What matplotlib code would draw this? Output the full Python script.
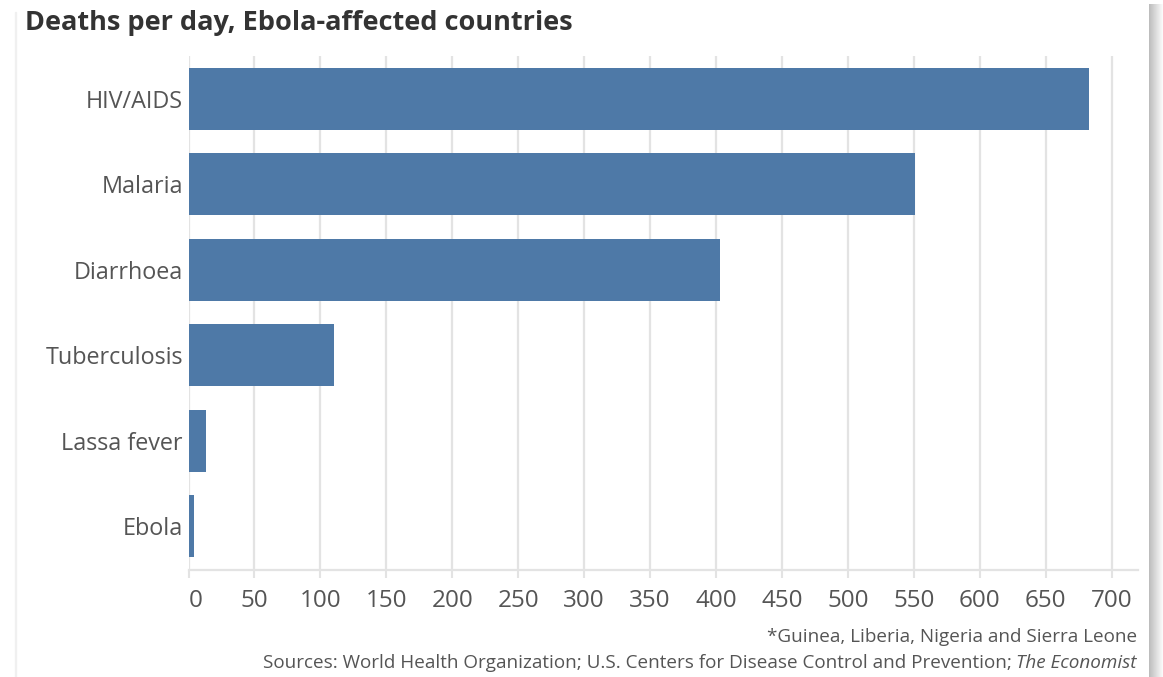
import matplotlib.pyplot as plt
from matplotlib.patches import Rectangle

# data
causes = ["HIV/AIDS", "Malaria", "Diarrhoea", "Tuberculosis", "Lassa fever", "Ebola"]
deaths = [683, 551, 403, 110, 13, 4]
ticks = list(range(0, 701, 50))

title = "Deaths per day, Ebola-affected countries"
note = "*Guinea, Liberia, Nigeria and Sierra Leone"
sources = "Sources: World Health Organization; U.S. Centers for Disease Control and Prevention; "
sources_it = "The Economist"

W, H = 1163, 677
plt.rcParams['font.family'] = ['Open Sans', 'DejaVu Sans']

fig = plt.figure(figsize=(W / 100, H / 100), dpi=100)
fig.patch.set_facecolor("white")

ax = fig.add_axes([188.5 / W, 1 - 570 / H, (1137.5 - 188.5) / W, (570 - 56) / H])
ypos = list(range(len(causes)))
ax.barh(ypos, deaths, height=0.726, color="#4e79a7", zorder=3)

ax.set_xlim(0, 719.5)
ax.set_ylim(5.515, -0.503)
ax.set_yticks(ypos)
ax.set_yticklabels(causes, fontsize=16.8, color="#555555")
ax.set_xticks(ticks)
ax.set_xticklabels([str(t) for t in ticks], fontsize=17.5, color="#555555")
ax.tick_params(axis="y", length=0, pad=4)
ax.tick_params(axis="x", length=6, width=1.5, color="#e3e3e3", pad=8)
ax.xaxis.grid(True, color="#e3e3e3", linewidth=1.6, zorder=0)
for s in ["top", "right", "left"]:
    ax.spines[s].set_visible(False)
ax.spines["bottom"].set_color("#e3e3e3")
ax.spines["bottom"].set_linewidth(1.6)

# first tick label sits right of its tick
lab0 = ax.get_xticklabels()[0]
lab0.set_horizontalalignment("left")
lab0.set_x(6)

fig.text(25 / W, 1 - 23 / H, title, fontsize=19.5, fontweight="bold",
         color="#333333", ha="left", va="center")

fig.text(1137 / W, 1 - 637 / H, note, fontsize=13.6, color="#555555",
         ha="right", va="center")
t_it = fig.text(1137 / W, 1 - 663 / H, sources_it, fontsize=13.6, color="#555555",
                ha="right", va="center", style="italic")
ax.annotate(sources, xy=(0, 0.5), xycoords=t_it, fontsize=13.6, color="#555555",
            ha="right", va="center")

# light card border and right-hand shadow of the screenshot
fig.patches.append(Rectangle((15 / W, 0), 1 / W, 1 - 12 / H, transform=fig.transFigure,
                             color="#f0f0f0", zorder=0))
for i in range(14):
    a = 0.55 * (1 - i / 14)
    fig.patches.append(Rectangle(((1149 + i) / W, 0), 1 / W, 1 - 4 / H,
                                 transform=fig.transFigure, color="#888888",
                                 alpha=a, lw=0, zorder=0))

fig.savefig("out.png", dpi=100)
